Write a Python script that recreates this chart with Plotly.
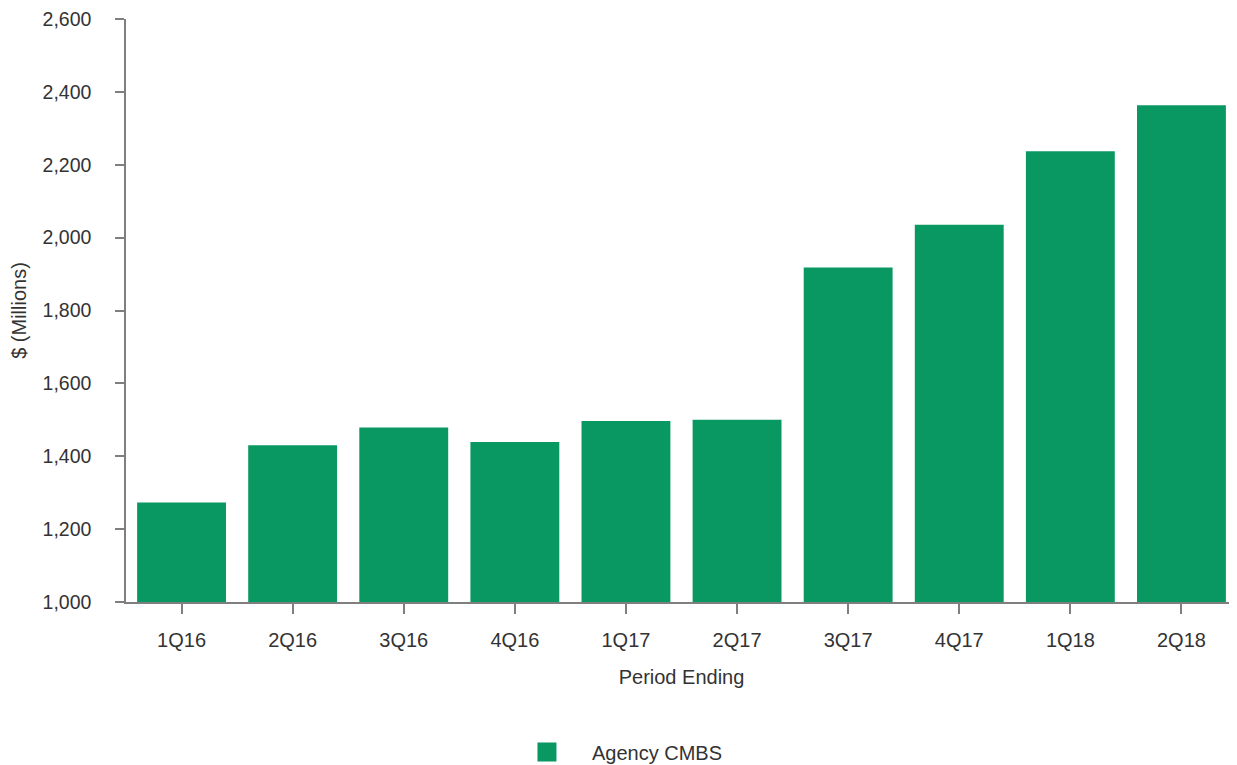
import plotly.graph_objects as go

categories = ["1Q16", "2Q16", "3Q16", "4Q16", "1Q17", "2Q17", "3Q17", "4Q17", "1Q18", "2Q18"]
agency_cmbs = [1273, 1430, 1479, 1439, 1497, 1500, 1918, 2035, 2237, 2363]
y_ticks = [1000, 1200, 1400, 1600, 1800, 2000, 2200, 2400, 2600]
y_tick_labels = ["1,000", "1,200", "1,400", "1,600", "1,800", "2,000", "2,200", "2,400", "2,600"]

GREEN = "#0A9862"
TEXT = "#333333"
AXIS = "#7f7f7f"
FONT = "Liberation Sans, Arial, sans-serif"

fig = go.Figure()
fig.add_trace(go.Bar(x=categories, y=agency_cmbs, marker=dict(color=GREEN, line=dict(width=0)),
                     name="Agency CMBS", showlegend=False))
fig.add_trace(go.Scatter(x=[None], y=[None], mode="markers", name="Agency CMBS",
                         marker=dict(symbol="square", size=16, color=GREEN,
                                     line=dict(color=GREEN, width=3)),
                         showlegend=True))

fig.update_layout(
    width=1229, height=757,
    margin=dict(l=118, r=0, t=11, b=163),
    plot_bgcolor="white", paper_bgcolor="white",
    font=dict(family=FONT, size=20, color=TEXT),
    bargap=0.2,
    legend=dict(orientation="h", x=0.3384, xanchor="left", xref="paper",
                y=0.0172, yanchor="middle", yref="container",
                itemwidth=80, font=dict(size=20, color=TEXT), bgcolor="rgba(0,0,0,0)"),
    xaxis=dict(
        title=dict(text="Period Ending", standoff=20, font=dict(size=20, color=TEXT)),
        automargin=False,
        showline=True, linecolor=AXIS, linewidth=1.5,
        ticks="outside", ticklen=10, tickcolor=AXIS, tickwidth=1.5,
        ticklabelstandoff=9,
        showgrid=False, zeroline=False,
        tickfont=dict(size=20, color=TEXT),
    ),
    yaxis=dict(
        title=dict(text="$ (Millions)", standoff=16, font=dict(size=20, color=TEXT)),
        automargin=False,
        range=[1000, 2600],
        tickvals=y_ticks, ticktext=y_tick_labels,
        ticklabeloverflow="allow",
        showline=True, linecolor=AXIS, linewidth=1.5,
        ticks="outside", ticklen=9, tickcolor=AXIS, tickwidth=1.5,
        ticklabelstandoff=20,
        showgrid=False, zeroline=False,
        tickfont=dict(size=19.5, color=TEXT),
    ),
)

fig.write_html("out.html")
